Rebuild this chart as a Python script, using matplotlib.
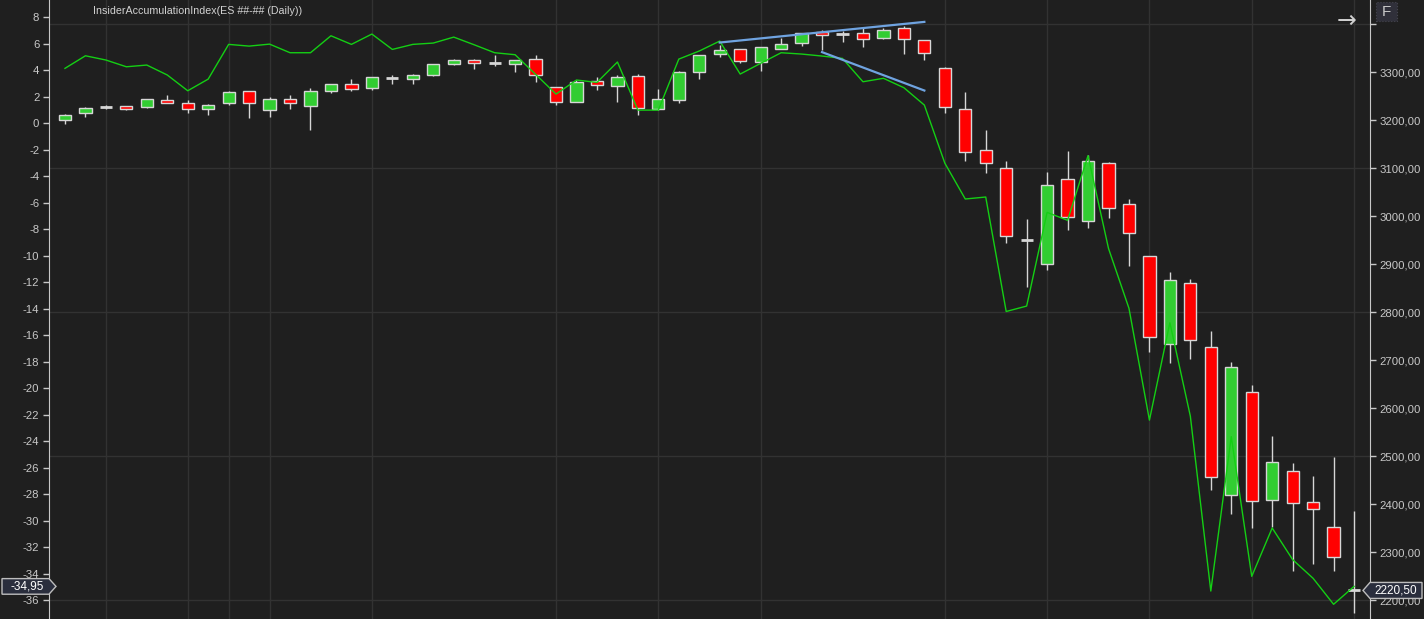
#!/usr/bin/env python3

import matplotlib
matplotlib.use("Agg")
import matplotlib.pyplot as plt
from matplotlib.patches import Polygon, Rectangle
from matplotlib.transforms import IdentityTransform

# daily ES candles (oldest first)
opens = [3200, 3215, 3227, 3229, 3227, 3242, 3237, 3223, 3237, 3260,
         3221, 3244, 3230, 3260, 3275, 3267, 3289, 3287, 3294, 3317,
         3325, 3320, 3317, 3327, 3269, 3239, 3281, 3271, 3292, 3223,
         3243, 3300, 3338, 3348, 3322, 3349, 3360, 3383, 3380, 3381,
         3371, 3392, 3367, 3308, 3223, 3138, 3100, 2951, 2900, 3077,
         2990, 3110, 3025, 2917, 2733, 2860, 2727, 2419, 2633, 2408,
         2469, 2404, 2352, 2220.5]
highs = [3213, 3228, 3232, 3230, 3245, 3253, 3242, 3234, 3260, 3261,
         3248, 3253, 3267, 3276, 3286, 3290, 3294, 3296, 3317, 3327,
         3327, 3336, 3325, 3336, 3269, 3283, 3290, 3294, 3296, 3265,
         3303, 3336, 3356, 3349, 3352, 3371, 3381, 3388, 3386, 3392,
         3392, 3397, 3367, 3312, 3258, 3179, 3115, 2994, 3092, 3136,
         3128, 3113, 3036, 2917, 2884, 2869, 2760, 2696, 2649, 2542,
         2486, 2459, 2499, 2387]
lows = [3193, 3207, 3223, 3222, 3226, 3235, 3216, 3212, 3232, 3205,
        3207, 3224, 3180, 3257, 3260, 3264, 3275, 3276, 3293, 3316,
        3306, 3314, 3301, 3280, 3232, 3238, 3264, 3239, 3212, 3222,
        3235, 3287, 3332, 3320, 3303, 3349, 3355, 3347, 3363, 3353,
        3370, 3338, 3326, 3215, 3116, 3091, 2945, 2853, 2889, 2972,
        2976, 2997, 2897, 2717, 2695, 2703, 2430, 2380, 2351, 2353,
        2262, 2276, 2262, 2174]
closes = [3212, 3225, 3227, 3224, 3244, 3237, 3223, 3231, 3258, 3235,
          3244, 3235, 3260, 3275, 3265, 3290, 3289, 3294, 3317, 3325,
          3319, 3320, 3325, 3294, 3239, 3279, 3273, 3290, 3225, 3245,
          3300, 3335, 3346, 3324, 3352, 3358, 3381, 3377, 3380, 3369,
          3388, 3369, 3340, 3227, 3133, 3110, 2958, 2951, 3065, 2998,
          3115, 3017, 2965, 2748, 2867, 2742, 2456, 2685, 2406, 2488,
          2402, 2390, 2290, 2220.5]

# InsiderAccumulationIndex, one value per bar
iai = [4.15, 5.1, 4.78, 4.27, 4.4, 3.65, 2.46, 3.34, 5.96, 5.83,
       5.98, 5.33, 5.33, 6.61, 5.96, 6.74, 5.58, 5.96, 6.06, 6.51,
       5.93, 5.33, 5.18, 3.7, 2.21, 3.27, 3.09, 4.63, 1.0, 1.0,
       4.85, 5.46, 6.21, 3.72, 4.53, 5.33, 5.23, 5.08, 4.9, 3.14,
       3.4, 2.69, 1.38, -3.0, -5.71, -5.56, -14.2, -13.79, -6.72, -7.32,
       -2.44, -9.44, -13.96, -22.4, -15.05, -22.1, -35.3, -23.65, -34.19, -30.54,
       -32.93, -34.34, -36.3, -34.95]

# bars where the chart draws a vertical separator
week_marks = [2, 6, 8, 10, 15, 24, 29, 34, 43, 48, 53, 58, 63]

# hand drawn divergence lines (bar index, price)
trend_up_x = [32, 42]
trend_up_y = [3362, 3405]
trend_down_x = [37, 42]
trend_down_y = [3342, 3262]

title = "InsiderAccumulationIndex(ES ##-## (Daily))"

BG = "#1f1f1f"
GRID = "#323232"
FG = "#c8c8c8"
EDGE = "#d6d6d6"
UP = "#32cd32"
DOWN = "#ff0000"
LINE = "#14cf14"
TREND = "#6fa3e0"


def fmt_price(v):
    return "{:.2f}".format(v).replace(".", ",")


def main():
    plt.rcParams["font.family"] = ["Liberation Sans", "DejaVu Sans"]
    plt.rcParams["axes.unicode_minus"] = False

    W, H = 1424, 619
    fig = plt.figure(figsize=(W / 100, H / 100), dpi=100, facecolor=BG)
    ax = fig.add_axes([49 / W, 0, (1370 - 49) / W, 1])
    ax.set_facecolor(BG)
    ind_ax = ax.twinx()

    n = len(opens)
    xs = list(range(n))

    # price axis on the right
    ax.yaxis.tick_right()
    ax.set_xlim(-0.78, n - 1 + 0.78)
    ax.set_ylim(2161, 3450.6)
    pticks = list(range(2200, 3401, 100))
    ax.set_yticks(pticks)
    ax.set_yticklabels([fmt_price(p) if p < 3400 else "" for p in pticks])
    ax.set_xticks(week_marks)
    ax.tick_params(axis="x", length=0, labelbottom=False)
    ax.tick_params(axis="y", colors=FG, labelsize=8.2, length=4, width=1, pad=3,
                   labelcolor=FG)
    ax.grid(True, axis="x", color=GRID, linewidth=1)
    for g in [2200, 2500, 2800, 3100, 3400]:
        ax.axhline(g, color=GRID, linewidth=1, zorder=0.5)
    ax.set_axisbelow(True)
    for s in ["top", "bottom"]:
        ax.spines[s].set_visible(False)
    ax.spines["right"].set_color(FG)
    ax.spines["left"].set_color(FG)

    # candles
    for i in xs:
        o, h, l, c = opens[i], highs[i], lows[i], closes[i]
        ax.vlines(i, l, h, color=EDGE, linewidth=1, zorder=2)
        if o == c:
            ax.hlines(o, i - 0.3, i + 0.3, color=EDGE, linewidth=2, zorder=3)
            continue
        col = UP if c > o else DOWN
        ax.bar(i, abs(c - o), bottom=min(o, c), width=0.6, color=col,
               edgecolor=EDGE, linewidth=1, zorder=3)

    # indicator on the left
    ind_ax.yaxis.tick_left()
    ind_ax.set_ylim(-37.41, 9.31)
    ind_ax.set_yticks(list(range(-36, 9, 2)))
    ind_ax.tick_params(axis="y", colors=FG, labelsize=8.2, length=4, width=1,
                       pad=3, labelcolor=FG)
    for s in ind_ax.spines.values():
        s.set_visible(False)
    ind_ax.plot(xs, iai, color=LINE, linewidth=1.0, zorder=4)

    ind_ax.plot(trend_up_x, trend_up_y, color=TREND, linewidth=1.6,
                transform=ax.transData, zorder=5)
    ind_ax.plot(trend_down_x, trend_down_y, color=TREND, linewidth=1.6,
                transform=ax.transData, zorder=5)

    fig.text(93 / W, 1 - 11 / H, title, color="#d2d2d2", fontsize=7.7,
             ha="left", va="center")

    # value tags for the last bar
    yi = ind_ax.transData.transform((0, iai[-1]))[1]
    pts = [(2, yi - 7.8), (49, yi - 7.8), (56, yi), (49, yi + 7.8), (2, yi + 7.8)]
    fig.add_artist(Polygon(pts, closed=True, facecolor="#2a2e3d",
                           edgecolor="#bdbdbd", linewidth=1,
                           transform=IdentityTransform()))
    fig.text(27 / W, yi / H, fmt_price(iai[-1]), color="white", fontsize=8.5,
             ha="center", va="center")

    yp = ax.transData.transform((0, closes[-1]))[1]
    pts = [(1363, yp), (1370, yp - 8), (1422, yp - 8), (1422, yp + 8), (1370, yp + 8)]
    fig.add_artist(Polygon(pts, closed=True, facecolor="#2a2e3d",
                           edgecolor="#bdbdbd", linewidth=1,
                           transform=IdentityTransform()))
    fig.text(1396 / W, yp / H, fmt_price(closes[-1]), color="white",
             fontsize=8.5, ha="center", va="center")

    # chart toolbar bits in the corner
    fig.add_artist(Rectangle((1376 / W, 1 - 21 / H), 21 / W, 19 / H,
                             facecolor="#30303a", edgecolor="#45454f",
                             linewidth=0.8, linestyle=":",
                             transform=fig.transFigure))
    fig.text(1386.5 / W, 1 - 11.5 / H, "F", color=FG, fontsize=11,
             ha="center", va="center")
    fig.text(1347 / W, 1 - 21 / H, "\u2192", color="#d0d0d0", fontsize=17,
             ha="center", va="center", family="DejaVu Sans")

    fig.savefig("out.png", dpi=100, facecolor=BG)


if __name__ == "__main__":
    main()
